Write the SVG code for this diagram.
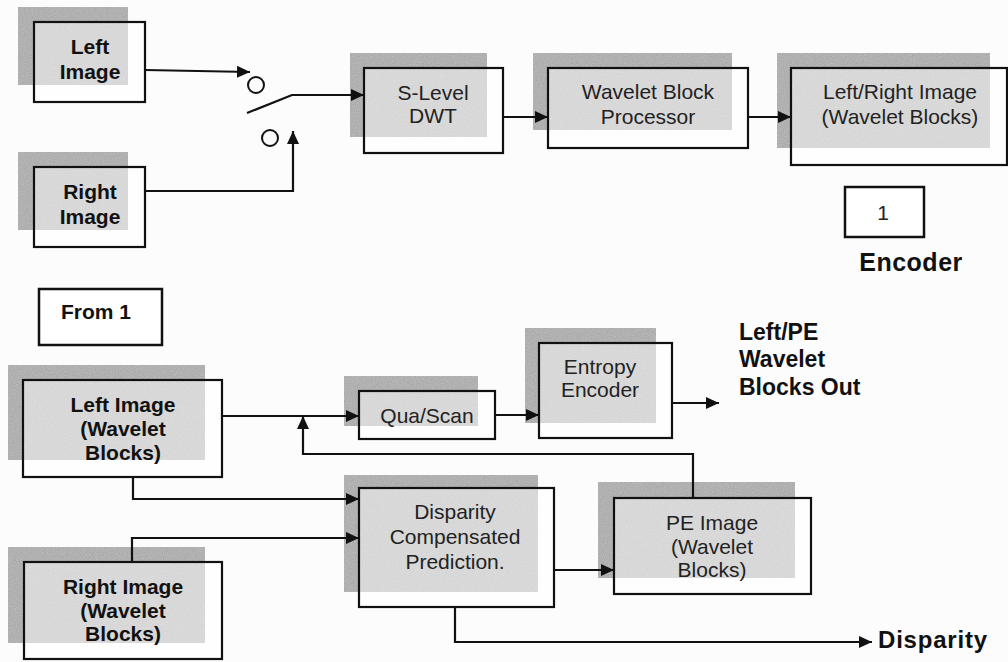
<svg xmlns="http://www.w3.org/2000/svg" width="1008" height="662" viewBox="0 0 1008 662">
<defs>
<marker id="ah" markerUnits="userSpaceOnUse" markerWidth="13" markerHeight="12" refX="13" refY="6" orient="auto">
<path d="M0,0 L13,6 L0,12 z" fill="#111"/>
</marker>
<filter id="grain" x="0" y="0" width="100%" height="100%">
<feTurbulence type="fractalNoise" baseFrequency="0.9" numOctaves="2" seed="3" result="n"/>
<feColorMatrix in="n" type="matrix" values="0 0 0 0 0  0 0 0 0 0  0 0 0 0 0  0 0 0 0.35 -0.05" result="dots"/>
<feComposite in="dots" in2="SourceGraphic" operator="in" result="d2"/>
<feMerge><feMergeNode in="SourceGraphic"/><feMergeNode in="d2"/></feMerge>
</filter>
</defs>
<style>
.sh{fill:#bcbcbc;filter:url(#grain)}
.bx{fill:#fff;fill-opacity:0.5;stroke:#111;stroke-width:2.2}
.plain{fill:#fff;stroke:#111;stroke-width:2.5}
.t{font-family:"Liberation Sans",Arial,sans-serif;font-size:21px;fill:#222;text-anchor:middle}
.b{font-family:"Liberation Sans",Arial,sans-serif;font-size:21px;font-weight:bold;fill:#111;text-anchor:middle}
.lbl{font-family:"Liberation Sans",Arial,sans-serif;font-size:23px;font-weight:bold;fill:#111}
.c{fill:none;stroke:#111;stroke-width:2.2}
.ca{fill:none;stroke:#111;stroke-width:2.2;marker-end:url(#ah)}
</style>
<rect width="1008" height="662" fill="#fcfcfc"/>

<g id="switch">
<ellipse cx="256" cy="85" rx="8" ry="8" fill="none" stroke="#111" stroke-width="2"/>
<ellipse cx="270" cy="138" rx="8" ry="8" fill="none" stroke="#111" stroke-width="2"/>
</g>

<g id="left-image">
<rect class="sh" x="18" y="7" width="110" height="78"/>
<rect class="bx" x="34" y="22" width="111" height="80"/>
<text class="b" x="90" y="54">Left</text>
<text class="b" x="90" y="79">Image</text>
</g>

<g id="right-image">
<rect class="sh" x="18" y="152" width="110" height="78"/>
<rect class="bx" x="34" y="167" width="111" height="80"/>
<text class="b" x="90" y="199">Right</text>
<text class="b" x="90" y="224">Image</text>
</g>

<g id="dwt">
<rect class="sh" x="350" y="53" width="137" height="84"/>
<rect class="bx" x="364" y="68" width="139" height="85"/>
<text class="t" x="433" y="100">S-Level</text>
<text class="t" x="433" y="123">DWT</text>
</g>

<g id="processor">
<rect class="sh" x="533" y="53" width="199" height="77"/>
<rect class="bx" x="548" y="68" width="200" height="80"/>
<text class="t" x="648" y="99">Wavelet Block</text>
<text class="t" x="648" y="124">Processor</text>
</g>

<g id="lr-image">
<rect class="sh" x="777" y="53" width="213" height="95"/>
<rect class="bx" x="791" y="68" width="216" height="97"/>
<text class="t" x="900" y="99">Left/Right Image</text>
<text class="t" x="900" y="124">(Wavelet Blocks)</text>
</g>

<g id="one">
<rect class="plain" x="845" y="187" width="79" height="50"/>
<text class="t" x="883" y="220">1</text>
<text class="lbl" x="911" y="271" text-anchor="middle" style="font-size:25px;letter-spacing:0.5px">Encoder</text>
</g>

<g id="from1">
<rect class="plain" x="39" y="289" width="123" height="56"/>
<text class="b" x="96" y="319">From 1</text>
</g>

<g id="left-wb">
<rect class="sh" x="8" y="365" width="197" height="95"/>
<rect class="bx" x="23" y="380" width="199" height="97"/>
<text class="b" x="123" y="412">Left Image</text>
<text class="b" x="123" y="436">(Wavelet</text>
<text class="b" x="123" y="460">Blocks)</text>
</g>

<g id="quascan">
<rect class="sh" x="344" y="376" width="134" height="50"/>
<rect class="bx" x="359" y="391" width="136" height="48"/>
<text class="t" x="427" y="423">Qua/Scan</text>
</g>

<g id="entropy">
<rect class="sh" x="525" y="328" width="131" height="95"/>
<rect class="bx" x="539" y="343" width="133" height="95"/>
<text class="t" x="600" y="374">Entropy</text>
<text class="t" x="600" y="397">Encoder</text>
</g>

<g id="out-label">
<text class="lbl" x="739" y="340">Left/PE</text>
<text class="lbl" x="739" y="367">Wavelet</text>
<text class="lbl" x="739" y="395">Blocks Out</text>
</g>

<g id="dcp">
<rect class="sh" x="344" y="475" width="194" height="117"/>
<rect class="bx" x="359" y="488" width="195" height="119"/>
<text class="t" x="455" y="519">Disparity</text>
<text class="t" x="455" y="544">Compensated</text>
<text class="t" x="455" y="569">Prediction.</text>
</g>

<g id="pe-image">
<rect class="sh" x="598" y="482" width="197" height="96"/>
<rect class="bx" x="614" y="498" width="197" height="96"/>
<text class="t" x="712" y="530">PE Image</text>
<text class="t" x="712" y="554">(Wavelet</text>
<text class="t" x="712" y="577">Blocks)</text>
</g>

<g id="right-wb">
<rect class="sh" x="8" y="547" width="197" height="96"/>
<rect class="bx" x="24" y="562" width="198" height="97"/>
<text class="b" x="123" y="594">Right Image</text>
<text class="b" x="123" y="618">(Wavelet</text>
<text class="b" x="123" y="641">Blocks)</text>
</g>

<g id="disparity-label">
<text class="lbl" x="878" y="648" style="font-size:24px;letter-spacing:0.8px">Disparity</text>
</g>

<g id="connectors">
<path class="ca" d="M145,70 L250,72"/>
<path class="ca" d="M247,113 L292,95 L364,95"/>
<path class="ca" d="M145,191 L293,191 L293,131"/>
<path class="ca" d="M503,117 L548,117"/>
<path class="ca" d="M748,117 L791,117"/>
<path class="ca" d="M222,416 L359,416"/>
<path class="ca" d="M693,498 L693,454 L303,454 L303,416"/>
<path class="ca" d="M495,415 L539,415"/>
<path class="ca" d="M672,403 L719,403"/>
<path class="ca" d="M133,477 L133,499 L359,499"/>
<path class="ca" d="M132,562 L132,538 L359,538"/>
<path class="ca" d="M554,570 L614,570"/>
<path class="ca" d="M455,607 L455,642 L872,642"/>
</g>
</svg>
